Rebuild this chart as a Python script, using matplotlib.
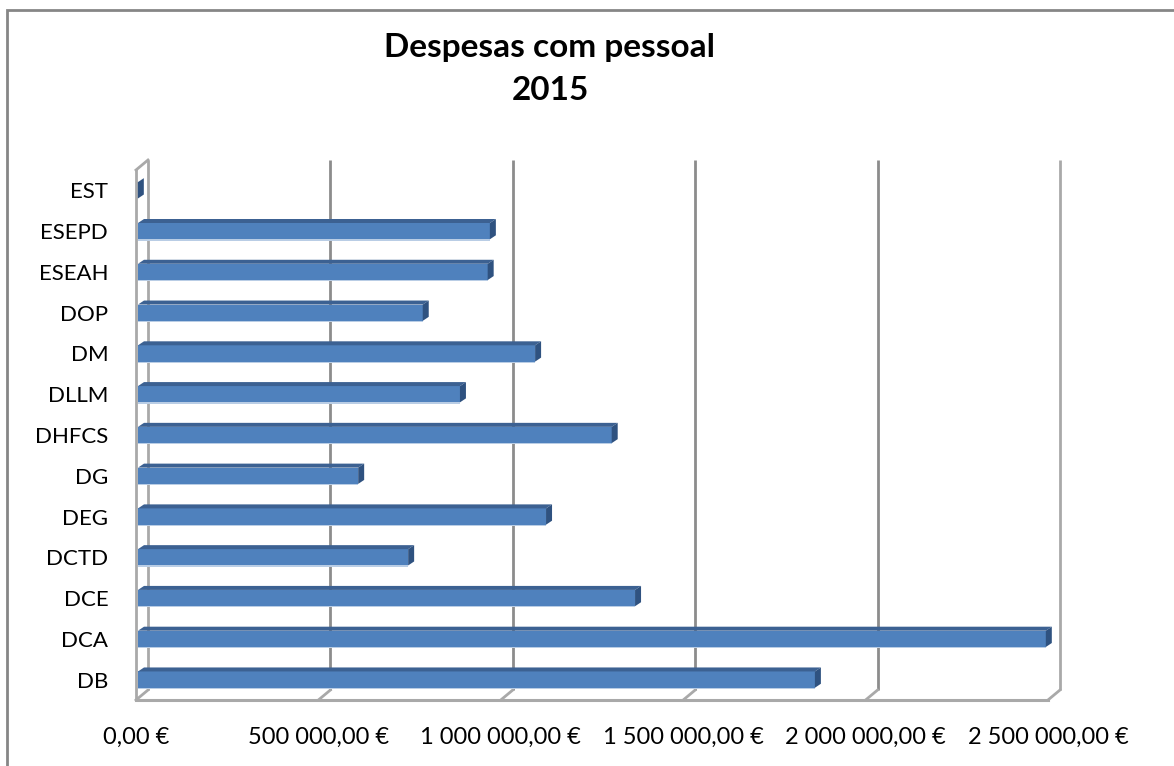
import matplotlib
matplotlib.use('Agg')
import matplotlib.pyplot as plt
from matplotlib.patches import Polygon, Rectangle

# Despesas com pessoal 2015
categories = ['DB', 'DCA', 'DCE', 'DCTD', 'DEG', 'DG', 'DHFCS', 'DLLM',
              'DM', 'DOP', 'ESEAH', 'ESEPD', 'EST']
values = [1861000, 2494000, 1368000, 746000, 1124000, 609000, 1304000,
          888000, 1094000, 786000, 964000, 970000, 5000]
ticks = [0, 500000, 1000000, 1500000, 2000000, 2500000]

plt.rcParams['font.family'] = ['Lato', 'DejaVu Sans']


def euro(v):
    s = f'{v:,.2f}'
    return s.replace(',', ' ').replace('.', ',') + ' €'


W, H = 1174, 766
fig = plt.figure(figsize=(W / 100, H / 100), dpi=100)
ax = fig.add_axes([136 / W, 1 - 700 / H, (1048 - 136) / W, (700 - 170) / H])
xmax = ticks[-1]
ax.set_xlim(0, xmax)
ax.set_ylim(-0.5, len(categories) - 0.5)
for s in ax.spines.values():
    s.set_visible(False)

# 3d depth of the walls and of the bars, in data units
px_x = xmax / (1048 - 136)
px_y = 1 / 40.77
DX, DY = 12 * px_x, 10 * px_y
BDX, BDY = 6 * px_x, 4 * px_y
top = len(categories) - 0.5
bot = -0.5

grid_dark = '#8c8c8c'
grid_light = '#a9a9a9'
for t in ticks:
    c = grid_light if t in (0, xmax) else grid_dark
    ax.plot([t + DX, t + DX], [bot + DY, top + DY], color=c, lw=2, zorder=1,
            clip_on=False, solid_capstyle='butt')
    ax.plot([t, t + DX], [bot, bot + DY], color=grid_light, lw=2, zorder=1,
            clip_on=False)
ax.plot([0, xmax], [bot, bot], color=grid_light, lw=2.2, zorder=1, clip_on=False)
ax.plot([0, 0], [bot, top], color=grid_light, lw=2, zorder=1, clip_on=False)
ax.plot([0, DX], [top, top + DY], color=grid_light, lw=2, zorder=1, clip_on=False)

h = 0.2
x0 = 2 * px_x
for i, v in enumerate(values):
    ax.add_patch(Rectangle((x0, i - h), v - x0, 2 * h, facecolor='#4f81bd',
                           edgecolor='none', zorder=3, clip_on=False))
    ax.add_patch(Rectangle((x0, i - h - 1.2 * px_y), v - x0, 1.5 * px_y,
                           facecolor='#b9cde5', edgecolor='none', zorder=2,
                           clip_on=False))
    ax.add_patch(Polygon([(x0, i + h), (v, i + h), (v + BDX, i + h + BDY),
                          (x0 + BDX, i + h + BDY)], closed=True,
                         facecolor='#3c6192', edgecolor='none', zorder=3,
                         clip_on=False))
    ax.add_patch(Polygon([(v, i - h), (v + BDX, i - h + BDY),
                          (v + BDX, i + h + BDY), (v, i + h)], closed=True,
                         facecolor='#2f5280', edgecolor='none', zorder=3,
                         clip_on=False))

ax.set_yticks(range(len(categories)), categories)
ax.set_xticks(ticks, [euro(t) for t in ticks])
ax.tick_params(axis='both', length=0, colors='black')
ax.tick_params(axis='y', pad=20, labelsize=16)
ax.tick_params(axis='x', pad=19, labelsize=17)

fig.text(550 / W, 1 - 47 / H, 'Despesas com pessoal', ha='center', va='center',
         fontsize=24, fontweight='bold')
fig.text(550 / W, 1 - 90 / H, '2015', ha='center', va='center',
         fontsize=24, fontweight='bold')

# chart area border
fig.patches.append(Rectangle((7 / W, -0.1), 1.2, 1 - 10 / H + 0.1,
                             transform=fig.transFigure, fill=False,
                             edgecolor='#868686', lw=2))

fig.savefig('out.png', dpi=100)
